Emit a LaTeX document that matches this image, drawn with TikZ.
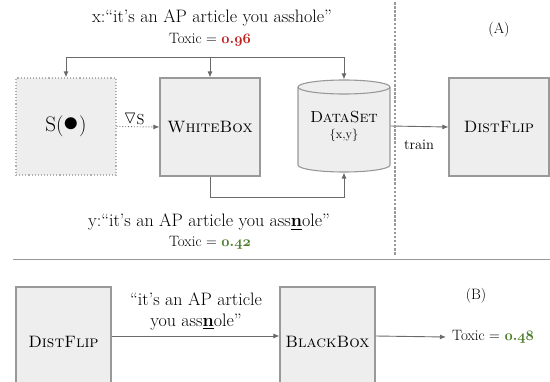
\documentclass[tikz,border=0pt]{standalone}
\usepackage{amssymb}
\usepackage{graphicx}
\usetikzlibrary{arrows.meta}
\definecolor{boxfill}{HTML}{EEEEEE}
\definecolor{boxline}{HTML}{999999}
\definecolor{dotline}{HTML}{B0B0B0}
\definecolor{arrowc}{HTML}{6A6A6A}
\definecolor{toxred}{HTML}{C0201E}
\definecolor{toxgreen}{HTML}{4E7D2B}
\newcommand{\bnum}[2]{{\usefont{OML}{cmm}{b}{it}#1\char58 #2}}
\begin{document}
\begin{tikzpicture}[x=1pt,y=-1pt,
  box/.style={draw=boxline, fill=boxfill, line width=1.1pt, inner sep=0pt,
    minimum width=100pt, minimum height=98pt, font=\fontsize{16.5}{18}\selectfont},
  arr/.style={draw=arrowc, line width=0.9pt, -{Latex[length=6pt,width=5pt]}},
  quote/.style={font=\fontsize{18}{20}\selectfont, inner sep=0pt},
  tox/.style={font=\fontsize{15}{17}\selectfont, inner sep=0pt},
  lbl/.style={font=\fontsize{14.5}{16}\selectfont, inner sep=0pt},
  sep/.style={draw=boxline, line width=1.3pt}]
\useasboundingbox (0,0) rectangle (550,381);
\clip (0,0) rectangle (550,381);

% ---------- (A) ----------
\node[quote] (xq) at (212,18) {x:``it's an AP article you asshole''};
\node[tox] (xt) at (210,40) {Toxic = \textcolor{toxred}{\bnum{0}{96}}};

\node[box, draw=dotline, dotted, line width=1.2pt, minimum height=97pt, font=\fontsize{21}{23}\selectfont]
  (sbox) at (66,126.5) {S(\raisebox{0.2pt}{\scalebox{1.5}{$\bullet$}})};
\node[box] (wb) at (210,127) {\textsc{WhiteBox}};

% cylinder
\fill[boxfill] (298,87) -- (298,165) arc (180:0:46 and 7) -- (390,87) arc (0:-180:46 and 7) -- cycle;
\draw[boxline, line width=1.1pt] (298,87) -- (298,165) arc (180:0:46 and 7) -- (390,87);
\draw[boxline, line width=1.1pt] (344,87) ellipse (46 and 7);
\node[box, draw=none, fill=none, minimum width=92pt, minimum height=92pt, align=center, font=\fontsize{16}{18}\selectfont]
  (ds) at (344,126) {\textsc{DataSet}\\[-2pt]{\fontsize{12.5}{14}\selectfont\{x,y\}}};

\node[box] (dfa) at (499,127) {\textsc{DistFlip}};
\node[lbl] (train) at (419,145) {train};
\node[lbl] (grad) at (134,119) {\raisebox{0.5pt}{\scalebox{1.25}{$\triangledown$}}S};
\node[lbl, font=\fontsize{15}{17}\selectfont] (lA) at (499,30) {(A)};

\coordinate (tb) at (210,57);
\coordinate (bb) at (210,197);
\draw[arr] (tb) -| (sbox.north);
\draw[arr] (tb) -| (ds.north);
\draw[arr] (tb) -- (wb.north);
\draw[arr] (wb.south) |- (bb) -| (ds.south);
\draw[arr, dotted] (sbox.east) -- (wb.west);
\draw[arr] (ds.east) -- (dfa.west);

\node[quote] (yq) at (209,222) {y:``it's an AP article you ass\underline{\textbf{n}}ole''};
\node[tox] (yt) at (210,243) {Toxic = \textcolor{toxgreen}{\bnum{0}{42}}};

\coordinate (vt) at (395,2);
\coordinate (vb) at (395,255);
\draw[boxline, line width=1.3pt, dash pattern=on 2.5pt off 1.6pt] (vt) -- (vb);
\coordinate (hl) at (13,259.5);
\coordinate (hr) at (552,259.5);
\draw[sep] (hl) -- (hr);

% ---------- (B) ----------
\node[box, minimum width=95pt, minimum height=110pt] (dfb) at (63.5,342) {\textsc{DistFlip}};
\node[box, minimum width=95pt, minimum height=110pt] (bbx) at (327.5,342) {\textsc{BlackBox}};
\node[lbl, font=\fontsize{15}{17}\selectfont] (lB) at (476,296) {(B)};
\node[quote, align=center, font=\fontsize{18}{21}\selectfont] (bq) at (196,311)
  {``it's an AP article\\you ass\underline{\textbf{n}}ole''};
\node[tox, anchor=west] (bt) at (452,337) {Toxic = \textcolor{toxgreen}{\bnum{0}{48}}};
\draw[arr] (dfb.east |- 0,336) -- (bbx.west |- 0,336);
\draw[arr] (bbx.east |- 0,336) -- ([xshift=-6pt]bt.west);
\end{tikzpicture}
\end{document}
